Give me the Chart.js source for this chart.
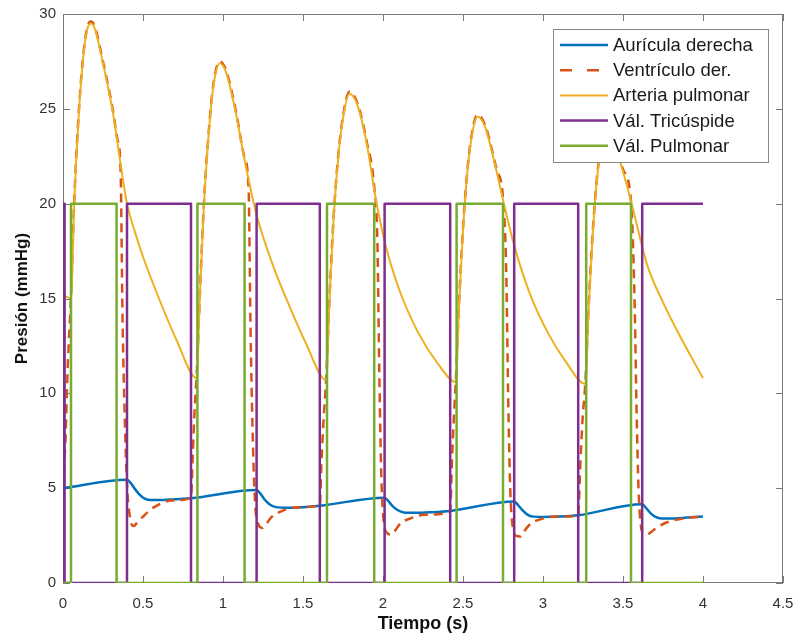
<!DOCTYPE html>
<html>
<head>
<meta charset="utf-8">
<script src="https://cdn.jsdelivr.net/npm/chart.js@4"></script>
<style>
  html, body { margin: 0; padding: 0; background: #fff; }
  #wrap { width: 801px; height: 644px; }
</style>
</head>
<body>
<div id="wrap"><canvas id="presion" width="801" height="644"></canvas></div>
<script>
// tiempos (s) y presiones (mmHg)
const atrT = [0, 0.40, 0.425, 0.45, 0.48, 0.51, 0.55, 0.60, 0.70, 0.80,
  1.21, 1.235, 1.26, 1.29, 1.33, 1.40, 1.50, 1.605,
  2.01, 2.035, 2.06, 2.09, 2.13, 2.20, 2.30, 2.42,
  2.82, 2.845, 2.87, 2.90, 2.94, 3.00, 3.10, 3.22,
  3.62, 3.645, 3.67, 3.70, 3.74, 3.80, 3.90, 4.0];
const atrP = [5.0, 5.45, 5.25, 4.95, 4.65, 4.45, 4.37, 4.37, 4.42, 4.47,
  4.9, 4.7, 4.4, 4.15, 4.0, 3.97, 4.0, 4.07,
  4.5, 4.3, 4.05, 3.85, 3.72, 3.7, 3.73, 3.8,
  4.3, 4.1, 3.85, 3.62, 3.5, 3.48, 3.5, 3.57,
  4.15, 3.95, 3.7, 3.5, 3.4, 3.4, 3.45, 3.5];

const venT = [0, 0.015, 0.03, 0.05, 0.07, 0.10, 0.13, 0.155, 0.175, 0.20, 0.247, 0.31, 0.34, 0.36, 0.372, 0.385, 0.40, 0.42, 0.44, 0.46, 0.50, 0.57, 0.68, 0.80,
  0.81, 0.822, 0.835, 0.855, 0.88, 0.91, 0.94, 0.98, 1.02, 1.08, 1.135, 1.16, 1.172, 1.185, 1.20, 1.22, 1.245, 1.265, 1.30, 1.37, 1.47, 1.605,
  1.615, 1.63, 1.645, 1.665, 1.69, 1.72, 1.75, 1.79, 1.84, 1.90, 1.945, 1.965, 1.977, 1.99, 2.005, 2.025, 2.05, 2.07, 2.11, 2.17, 2.26, 2.42,
  2.43, 2.443, 2.455, 2.475, 2.50, 2.53, 2.56, 2.59, 2.64, 2.71, 2.75, 2.77, 2.782, 2.795, 2.81, 2.83, 2.86, 2.88, 2.92, 2.98, 3.08, 3.22,
  3.232, 3.247, 3.265, 3.285, 3.31, 3.34, 3.37, 3.40, 3.45, 3.50, 3.55, 3.572, 3.585, 3.597, 3.612, 3.63, 3.65, 3.67, 3.70, 3.76, 3.84, 3.92, 4.0];
const venP = [5.0, 7.5, 11.5, 15.1, 20.1, 25.0, 28.1, 29.4, 29.6, 29.3, 27.6, 25.0, 23.4, 21.8, 14.0, 9.0, 5.2, 3.4, 3.0, 3.15, 3.5, 4.0, 4.35, 4.5,
  6.5, 9.0, 10.9, 15.1, 19.9, 23.7, 26.3, 27.5, 27.0, 24.9, 22.4, 20.8, 13.5, 8.0, 4.3, 3.1, 2.9, 3.05, 3.45, 3.8, 4.0, 4.1,
  6.3, 8.8, 10.8, 14.9, 19.1, 22.5, 24.6, 25.9, 25.3, 23.2, 20.9, 18.0, 11.0, 5.5, 3.2, 2.65, 2.55, 2.7, 3.15, 3.4, 3.6, 3.75,
  6.2, 8.7, 10.7, 14.7, 18.7, 22.0, 23.9, 24.7, 24.1, 21.8, 20.3, 16.5, 10.0, 5.0, 3.0, 2.5, 2.45, 2.7, 3.1, 3.35, 3.5, 3.55,
  6.0, 8.6, 10.6, 14.5, 18.4, 21.6, 23.2, 23.7, 23.1, 21.8, 20.1, 15.0, 9.0, 5.0, 3.0, 2.6, 2.55, 2.65, 2.85, 3.15, 3.35, 3.45, 3.5];

const artT = [0, 0.05, 0.07, 0.10, 0.13, 0.155, 0.175, 0.20, 0.247, 0.31, 0.36, 0.40, 0.45, 0.50, 0.60, 0.71, 0.835,
  0.855, 0.88, 0.91, 0.94, 0.98, 1.02, 1.08, 1.135, 1.21, 1.31, 1.41, 1.52, 1.645,
  1.665, 1.69, 1.72, 1.75, 1.79, 1.84, 1.90, 1.95, 2.01, 2.10, 2.22, 2.34, 2.455,
  2.475, 2.50, 2.53, 2.56, 2.59, 2.64, 2.71, 2.75, 2.82, 2.92, 3.03, 3.14, 3.265,
  3.285, 3.31, 3.34, 3.37, 3.40, 3.45, 3.50, 3.56, 3.65, 3.75, 3.87, 4.0];
const artP = [15.2, 15.0, 20.0, 24.9, 28.0, 29.3, 29.5, 29.2, 27.5, 24.9, 22.1, 20.0, 18.5, 17.2, 15.0, 12.8, 10.8,
  15.0, 19.8, 23.6, 26.2, 27.4, 26.9, 24.8, 22.3, 19.4, 16.8, 14.7, 12.6, 10.7,
  14.8, 19.0, 22.4, 24.5, 25.8, 25.2, 23.1, 20.5, 18.0, 15.5, 13.2, 11.6, 10.6,
  14.6, 18.6, 21.9, 23.8, 24.6, 24.0, 21.7, 20.2, 17.8, 15.2, 13.2, 11.7, 10.5,
  14.4, 18.3, 21.5, 23.1, 23.6, 23.0, 21.7, 19.8, 16.8, 14.8, 12.8, 10.8];

// valvulas: 20 = abierta, 0 = cerrada
const tricT = [0, 0, 0.01, 0.01, 0.40, 0.40, 0.80, 0.80, 1.21, 1.21, 1.605, 1.605, 2.01, 2.01, 2.42, 2.42, 2.82, 2.82, 3.22, 3.22, 3.62, 3.62, 4.0];
const tricV = [0, 20, 20, 0, 0, 20, 20, 0, 0, 20, 20, 0, 0, 20, 20, 0, 0, 20, 20, 0, 0, 20, 20];
const pulmT = [0, 0.05, 0.05, 0.335, 0.335, 0.84, 0.84, 1.135, 1.135, 1.65, 1.65, 1.945, 1.945, 2.46, 2.46, 2.75, 2.75, 3.27, 3.27, 3.55, 3.55, 4.0];
const pulmV = [0, 0, 20, 20, 0, 0, 20, 20, 0, 0, 20, 20, 0, 0, 20, 20, 0, 0, 20, 20, 0, 0];

const labels = ['Aurícula derecha', 'Ventrículo der.', 'Arteria pulmonar', 'Vál. Tricúspide', 'Vál. Pulmonar'];
const xTicks = [0, 0.5, 1, 1.5, 2, 2.5, 3, 3.5, 4, 4.5];
const yTicks = [0, 5, 10, 15, 20, 25, 30];

const FONT = '"Liberation Sans", Arial, Helvetica, sans-serif';
const toXY = (t, v) => t.map((x, i) => ({ x: x, y: v[i] }));

// caja + marcas hacia dentro, estilo matlab
const axesBox = {
    id: 'axesBox',
    beforeDatasetsDraw(chart) {
        const { ctx, chartArea: a, scales } = chart;
        ctx.save();
        ctx.strokeStyle = '#7a7a7a';
        ctx.lineWidth = 1;
        ctx.strokeRect(a.left + 0.5, a.top + 0.5, a.right - a.left - 1, a.bottom - a.top - 1);
        ctx.beginPath();
        xTicks.forEach(v => {
            const px = Math.round(scales.x.getPixelForValue(v)) + 0.5;
            ctx.moveTo(px, a.bottom); ctx.lineTo(px, a.bottom - 7);
            ctx.moveTo(px, a.top); ctx.lineTo(px, a.top + 7);
        });
        yTicks.forEach(v => {
            const py = Math.round(scales.y.getPixelForValue(v)) + 0.5;
            ctx.moveTo(a.left, py); ctx.lineTo(a.left + 7, py);
            ctx.moveTo(a.right, py); ctx.lineTo(a.right - 7, py);
        });
        ctx.stroke();
        ctx.restore();
    }
};

// leyenda dentro del area, arriba a la derecha
const boxLegend = {
    id: 'boxLegend',
    afterDatasetsDraw(chart) {
        const ctx = chart.ctx;
        const x0 = 553, y0 = 29, w = 216, h = 134;
        ctx.save();
        ctx.fillStyle = '#fff';
        ctx.fillRect(x0, y0, w, h);
        ctx.strokeStyle = '#8a8a8a';
        ctx.lineWidth = 1;
        ctx.strokeRect(x0 + 0.5, y0 + 0.5, w - 1, h - 1);
        ctx.font = '18.5px ' + FONT;
        ctx.textBaseline = 'middle';
        ctx.fillStyle = '#1a1a1a';
        chart.data.datasets.forEach((ds, i) => {
            const y = 45 + i * 25.2;
            ctx.beginPath();
            ctx.strokeStyle = ds.borderColor;
            ctx.lineWidth = ds.borderWidth;
            ctx.setLineDash(ds.borderDash ? [12, 15] : []);
            ctx.moveTo(560, y); ctx.lineTo(608, y);
            ctx.stroke();
            ctx.setLineDash([]);
            ctx.fillText(ds.label, 613, y + 1);
        });
        ctx.restore();
    }
};

new Chart(document.getElementById('presion'), {
    type: 'line',
    data: {
        datasets: [
            { label: labels[0], data: toXY(atrT, atrP), borderColor: '#0072BD', borderWidth: 2.5, cubicInterpolationMode: 'monotone', order: 5 },
            { label: labels[1], data: toXY(venT, venP), borderColor: '#D95319', borderWidth: 2.5, borderDash: [9, 6], cubicInterpolationMode: 'monotone', order: 4 },
            { label: labels[2], data: toXY(artT, artP), borderColor: '#EDB120', borderWidth: 2, cubicInterpolationMode: 'monotone', order: 3 },
            { label: labels[3], data: toXY(tricT, tricV), borderColor: '#7E2F8E', borderWidth: 2.5, tension: 0, order: 2 },
            { label: labels[4], data: toXY(pulmT, pulmV), borderColor: '#77AC30', borderWidth: 2.5, tension: 0, order: 1 }
        ]
    },
    options: {
        responsive: false,
        animation: false,
        devicePixelRatio: 1,
        layout: { padding: { top: 14, right: 18, left: 0, bottom: 0 } },
        elements: { point: { radius: 0 }, line: { fill: false, borderJoinStyle: 'round' } },
        plugins: { legend: { display: false }, tooltip: { enabled: false } },
        scales: {
            x: {
                type: 'linear', min: 0, max: 4.5,
                grid: { display: false, drawTicks: false }, border: { display: false },
                afterBuildTicks: s => { s.ticks = xTicks.map(v => ({ value: v })); },
                ticks: { color: '#333', font: { family: FONT, size: 15 }, padding: 12, maxRotation: 0, autoSkip: false,
                         callback: v => String(v) },
                title: { display: true, text: 'Tiempo (s)', color: '#111', font: { family: FONT, size: 18, weight: 'bold' }, padding: { top: 0, bottom: 9 } },
                afterFit: s => { s.height = 61; s.paddingLeft = 0; s.paddingRight = 0; }
            },
            y: {
                min: 0, max: 30,
                grid: { display: false, drawTicks: false }, border: { display: false },
                afterBuildTicks: s => { s.ticks = yTicks.map(v => ({ value: v })); },
                ticks: { color: '#333', font: { family: FONT, size: 15 }, padding: 7, callback: v => String(v) },
                title: { display: true, text: 'Presión (mmHg)', color: '#111', font: { family: FONT, size: 17, weight: 'bold' }, padding: { top: 12, bottom: 0 } },
                afterFit: s => { s.width = 63; s.paddingTop = 0; s.paddingBottom = 0; }
            }
        }
    },
    plugins: [axesBox, boxLegend]
});
</script>
</body>
</html>
